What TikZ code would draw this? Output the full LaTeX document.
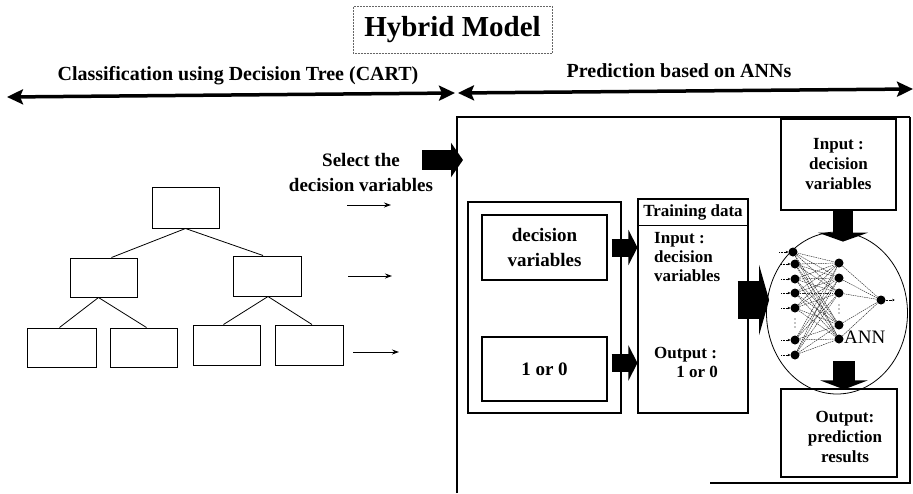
\documentclass[tikz,border=0pt]{standalone}
\usepackage{fontspec}
\setmainfont{Liberation Serif}
\usetikzlibrary{arrows.meta,calc,shapes.geometric}
\newcommand\fz[2]{\fontsize{#1}{#2}\selectfont}

\begin{document}
\begin{tikzpicture}[x=1pt,y=-1pt,
  treebox/.style={draw, line width=1pt, minimum width=67pt, minimum height=40pt, inner sep=0pt},
  treeedge/.style={line width=0.8pt},
  ptr/.style={line width=1pt, -{Stealth[length=7pt,width=5pt]}},
  band/.style={line width=3.5pt, {Stealth[length=16pt,width=15pt,inset=3pt]}-{Stealth[length=16pt,width=15pt,inset=3pt]}},
  plainbox/.style={draw, line width=1.1pt, inner sep=0pt},
  blockarrow/.style n args={3}{line width=#1, -{Triangle[length=#3, width=#2]}},
  unit/.style={circle, fill, inner sep=0pt, minimum size=9pt},
  link/.style={line width=0.45pt, dash pattern=on 1.5pt off 0.8pt, black!85},
  feed/.style={line width=0.4pt, densely dotted, -{Stealth[length=2.5pt,width=2.5pt]}},
]
\useasboundingbox (0,0) rectangle (913,493);

% ---------- title and the two phases ----------
\node[draw, densely dotted, line width=0.5pt, black!60, minimum width=199pt, minimum height=47pt, inner sep=0pt] (titlebox) at (452.5,29.5) {};
\node[font=\fz{29}{29}\bfseries] (title) at (titlebox.center) {Hybrid Model};

\node[font=\fz{20}{20}\bfseries] (lefthead) at (238,76) {Classification using Decision Tree (CART)};
\node[font=\fz{20}{20}\bfseries] (righthead) at (679,71) {Prediction based on ANNs};

\coordinate (bandL) at (7,97);
\coordinate (bandM1) at (455,93);
\coordinate (bandM2) at (458,93);
\coordinate (bandR) at (913,89);
\draw[band] (bandL) -- (bandM1);
\draw[band] (bandM2) -- (bandR);

% ---------- decision tree ----------
\node[treebox, minimum height=41pt] (root) at (185.5,207.5) {};
\node[treebox, minimum height=39pt] (ml) at (103.5,277.5) {};
\node[treebox, minimum height=40pt, minimum width=68pt] (mr) at (267,276) {};
\node[treebox, minimum width=69pt, minimum height=39pt] (l1) at (61.5,347.5) {};
\node[treebox, minimum height=39pt] (l2) at (143.5,347.5) {};
\node[treebox] (l3) at (226.5,345) {};
\node[treebox, minimum width=68pt] (l4) at (309,345) {};

\draw[treeedge] (root.south) -- ([xshift=8pt]ml.north);
\draw[treeedge] (root.south) -- ([xshift=-4pt]mr.north);
\draw[treeedge] ([xshift=-5pt]ml.south) -- ([xshift=-2pt]l1.north);
\draw[treeedge] ([xshift=-5pt]ml.south) -- ([xshift=3pt]l2.north);
\draw[treeedge] ([xshift=1pt]mr.south) -- ([xshift=-3pt]l3.north);
\draw[treeedge] ([xshift=1pt]mr.south) -- ([xshift=3pt]l4.north);

\coordinate (p1s) at (347,205); \coordinate (p1e) at (391,205);
\coordinate (p2s) at (348,276); \coordinate (p2e) at (392,276);
\coordinate (p3s) at (353,352); \coordinate (p3e) at (399,352);
\draw[ptr] (p1s) -- (p1e);
\draw[ptr] (p2s) -- (p2e);
\draw[ptr] (p3s) -- (p3e);

\node[font=\fz{19}{25}\bfseries, align=center] (select) at (361,172) {Select the\\decision variables};
\coordinate (selA) at (422,160);
\coordinate (selB) at (463,160);
\draw[blockarrow={20pt}{34pt}{12pt}] (selA) -- (selB);

% ---------- prediction frame ----------
\coordinate (fBL) at (457,493);
\coordinate (fTL) at (457,117);
\coordinate (fTR) at (910,117);
\coordinate (fBR) at (910,483);
\coordinate (fB) at (710,483);
\draw[line width=2pt] (fBL) -- (fTL) -- (fTR);
\draw[line width=1.5pt] (fTR) -- (fBR) -- (fB);

% data group
\node[plainbox, minimum width=153pt, minimum height=211pt] (grp) at (544.5,307.5) {};
\node[plainbox, minimum width=125pt, minimum height=65pt, align=center, font=\fz{19}{25}\bfseries] (dv) at (544.5,247.5) {decision\\variables};
\node[plainbox, minimum width=125pt, minimum height=64pt, font=\fz{19}{19}\bfseries] (bin) at (544.5,369) {1 or 0};

% training data
\node[plainbox, minimum width=110pt, minimum height=214pt] (train) at (693,306) {};
\draw[line width=0.9pt] ($(train.north west)+(0,27)$) -- ($(train.north east)+(0,27)$);
\node[font=\fz{17}{17}\bfseries] (tdhead) at (693,212.5) {Training data};
\node[anchor=north west, align=left, inner sep=0pt, font=\fz{17}{19}\bfseries] (tdin) at (654,232) {Input :\\decision\\variables};
\node[anchor=north west, align=left, inner sep=0pt, font=\fz{17}{19}\bfseries] (tdout) at (654,347) {Output :\\\hspace*{1.3em}1 or 0};

\draw[blockarrow={18pt}{35pt}{9pt}] ($(grp.east |- dv.east)+(-10,0)$) -- (train.west |- dv.east);
\draw[blockarrow={18pt}{35pt}{9pt}] ($(grp.east |- bin.east)+(-10,-6)$) -- ($(train.west |- bin.east)+(0,-6)$);

% neural network
\node[draw, ellipse, line width=0.8pt, minimum width=141pt, minimum height=162pt, inner sep=0pt] (ann) at (837,313) {};

\foreach \n/\x/\y in {i1/793/252, i2/795/264, i3/795/279, i4/795/293, i5/795/308, i6/795/340, i7/795/355}
  \node[unit] (\n) at (\x,\y) {};
\foreach \n/\y in {h1/263, h2/278, h3/293, h4/325, h5/339}
  \node[unit] (\n) at (839,\y) {};
\node[unit] (o1) at (881,300) {};

\foreach \a in {i1,i2,i3,i4,i5,i6,i7}
  \foreach \b in {h1,h2,h3,h4,h5}
    \draw[link] (\a) -- (\b);
\foreach \b in {h1,h2,h3,h4,h5}
  \draw[link] (\b) -- (o1);
\foreach \a in {i1,i2,i3,i4,i5,i6,i7}
  \draw[feed] ($(\a.west)+(-9,0)$) -- (\a.west);
\draw[feed] (o1.east) -- ++(9,0);
\foreach \y in {319,323,327} \fill (795,\y) circle (0.6pt);
\foreach \y in {305,309,313} \fill (839,\y) circle (0.6pt);
\node[anchor=west, inner sep=0pt, font=\fz{19}{19}] (annlabel) at (844,337) {ANN};

\draw[blockarrow={38pt}{70pt}{10pt}] ($(train.east)+(-11,-6)$) -- ($(ann.west)+(3,-13)$);

% input and output of the network
\node[plainbox, minimum width=115pt, minimum height=91pt, align=center, font=\fz{17}{20}\bfseries] (inbox) at (838.5,164.5) {Input :\\decision\\variables};
\node[plainbox, minimum width=116pt, minimum height=88pt] (outbox) at (839,433) {};
\node[align=center, font=\fz{17}{20}\bfseries] (outtext) at (845,437) {Output:\\prediction\\results};

\draw[blockarrow={20pt}{50pt}{9pt}] ($(inbox.south)+(4.5,0)$) -- ($(ann.north)+(6,10)$);
\draw[blockarrow={22pt}{47pt}{9pt}] ($(outbox.north)+(5,-27)$) -- ($(outbox.north)+(5,1)$);
\end{tikzpicture}
\end{document}
